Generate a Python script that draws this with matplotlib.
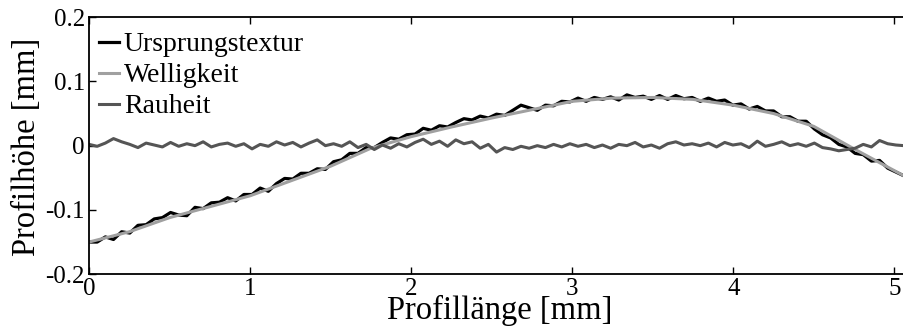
import numpy as np
import matplotlib
matplotlib.use("Agg")
import matplotlib.pyplot as plt
from matplotlib.ticker import FuncFormatter

# Profillänge [mm] und Werte der Welligkeit (glatte Kurve)
x_well = [0.0, 0.25, 0.5, 0.75, 1.0, 1.25, 1.5, 1.75, 2.0, 2.25, 2.5, 2.75,
          3.0, 3.25, 3.5, 3.75, 4.0, 4.25, 4.5, 4.75, 5.06]
welligkeit = [-0.150, -0.134, -0.112, -0.095, -0.078, -0.055, -0.032, -0.004,
              0.014, 0.029, 0.043, 0.056, 0.069, 0.074, 0.075, 0.072, 0.063,
              0.050, 0.030, -0.005, -0.047]

# Ursprungstextur [mm], 101 Messpunkte von 0 bis 5.06 mm
ursprung = [
    -0.150, -0.150, -0.142, -0.146, -0.134, -0.136, -0.124, -0.123, -0.114, -0.112,
    -0.104, -0.108, -0.109, -0.096, -0.098, -0.089, -0.088, -0.081, -0.086, -0.076,
    -0.076, -0.066, -0.071, -0.059, -0.051, -0.052, -0.043, -0.043, -0.036, -0.037,
    -0.025, -0.022, -0.012, -0.012, -0.003, -0.003, 0.005, 0.012, 0.010, 0.017,
    0.018, 0.027, 0.024, 0.031, 0.029, 0.036, 0.042, 0.040, 0.046, 0.043,
    0.049, 0.047, 0.055, 0.063, 0.059, 0.055, 0.063, 0.062, 0.069, 0.068,
    0.074, 0.069, 0.075, 0.072, 0.076, 0.071, 0.079, 0.075, 0.077, 0.072,
    0.078, 0.072, 0.078, 0.073, 0.075, 0.069, 0.074, 0.069, 0.071, 0.063,
    0.065, 0.057, 0.061, 0.054, 0.054, 0.045, 0.045, 0.038, 0.038, 0.026,
    0.017, 0.012, 0.002, -0.002, -0.012, -0.014, -0.024, -0.023, -0.035, -0.041,
    -0.047,
]

# Rauheit [µm], gleiche 101 Messpunkte
rauheit_um = [
    2, -1, 4, 11, 6, 2, -3, 4, 1, -2,
    5, -1, 3, 0, 6, -2, 2, 4, -1, 3,
    -5, 2, -1, 6, 1, 5, -2, 4, 9, 0,
    3, -1, 6, -3, 2, -6, 1, -4, 3, -2,
    5, 10, 2, 7, -1, 9, 3, 6, -4, 2,
    -10, -3, -6, -1, -4, 0, -3, 2, -2, 3,
    -1, 2, -3, 1, -4, 2, 0, 5, -2, 1,
    -4, 3, 6, 1, 3, 0, 4, -2, 5, 1,
    3, -3, 7, -1, 2, 6, 0, 3, -1, 4,
    -3, -5, -8, -6, -4, 2, -2, 8, 3, 1,
    0,
]

x_profil = np.linspace(0.0, 5.06, len(ursprung))
rauheit = np.array(rauheit_um) / 1000.0

plt.rcParams["font.family"] = ["Liberation Serif", "DejaVu Serif"]

fig = plt.figure(figsize=(9.04, 3.36), dpi=100)
ax = fig.add_axes([0.0985, 0.184, 0.9015, 0.765])

ax.plot(x_profil, ursprung, color="black", lw=2.3, label="Ursprungstextur")
ax.plot(x_well, welligkeit, color="#a0a0a0", lw=2.2, label="Welligkeit")
ax.plot(x_profil, rauheit, color="#555555", lw=2.2, label="Rauheit")

ax.set_xlim(0, 5.06)
ax.set_ylim(-0.2, 0.2)
ax.set_xticks([0, 1, 2, 3, 4, 5])
ax.set_yticks([-0.2, -0.1, 0, 0.1, 0.2])
ax.yaxis.set_major_formatter(FuncFormatter(lambda v, p: f"{v:g}"))
ax.tick_params(direction="in", top=True, right=False, labelsize=18,
               length=5, width=1, pad=3)
ax.spines["right"].set_visible(False)
for s in ax.spines.values():
    s.set_linewidth(1.3)

ax.set_xlabel("Profillänge [mm]", fontsize=23.5)
ax.xaxis.set_label_coords(0.504, -0.082)
ax.set_ylabel("Profilhöhe [mm]", fontsize=23.5)
ax.yaxis.set_label_coords(-0.058, 0.495)

ax.legend(loc="upper left", bbox_to_anchor=(0.0, 0.98), frameon=False,
          fontsize=20, handlelength=0.72, handletextpad=0.18,
          borderaxespad=0.0, labelspacing=0.2, borderpad=0.35)

fig.savefig("out.png", dpi=100)
